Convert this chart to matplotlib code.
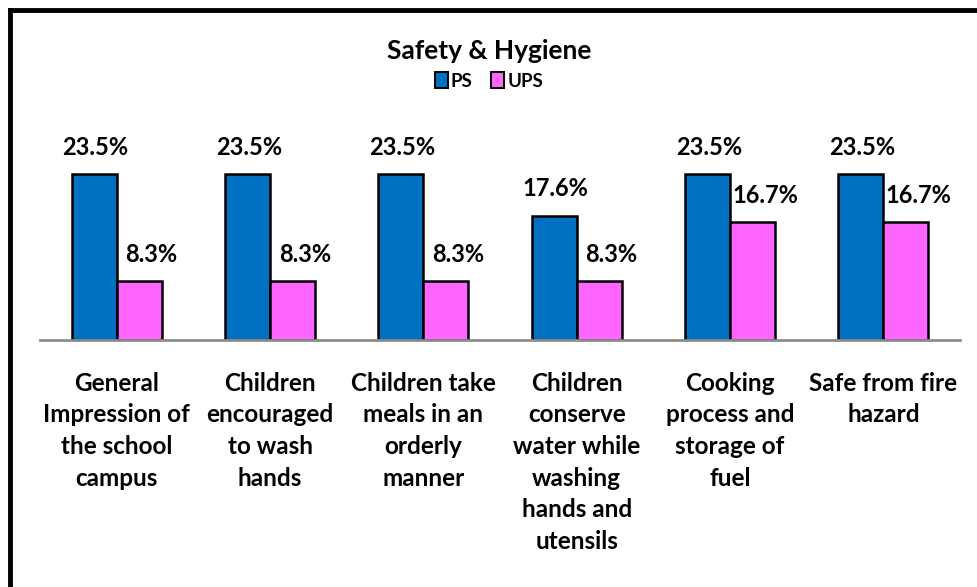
import matplotlib.pyplot as plt
import numpy as np
from matplotlib.lines import Line2D
from matplotlib.patches import Patch

plt.rcParams["font.family"] = ["Lato", "DejaVu Sans"]
plt.rcParams["font.weight"] = "bold"

categories = [
    "General\nImpression of\nthe school\ncampus",
    "Children\nencouraged\nto wash\nhands",
    "Children take\nmeals in an\norderly\nmanner",
    "Children\nconserve\nwater while\nwashing\nhands and\nutensils",
    "Cooking\nprocess and\nstorage of\nfuel",
    "Safe from fire\nhazard",
]
ps = [23.5, 23.5, 23.5, 17.6, 23.5, 23.5]
ups = [8.3, 8.3, 8.3, 8.3, 16.7, 16.7]

fig = plt.figure(figsize=(9.78, 5.87), dpi=100)
ax = fig.add_axes([40 / 978, 247 / 587, 920 / 978, 176.5 / 587])

x = np.arange(len(categories))
w = 0.293
b1 = ax.bar(x - w / 2, ps, w, color="#0070C0", edgecolor="black", linewidth=1.8, label="PS")
b2 = ax.bar(x + w / 2, ups, w, color="#FF66FF", edgecolor="black", linewidth=1.8, label="UPS")

for bars, dx in ((b1, 1), (b2, 9)):
    for r in bars:
        ax.annotate(f"{r.get_height():.1f}%", (r.get_x() + r.get_width() / 2, r.get_height()),
                    xytext=(dx, 19.5), textcoords="offset points", ha="center", va="center",
                    fontsize=17, fontweight="bold")

ax.set_xlim(-0.5, len(categories) - 0.5)
ax.set_ylim(0, 25)
ax.set_yticks([])
ax.set_xticks(x)
ax.set_xticklabels(categories, fontsize=17.5, fontweight="bold", linespacing=1.45)
ax.tick_params(axis="x", length=0, pad=23)
for s in ("top", "right", "left"):
    ax.spines[s].set_visible(False)
ax.spines["bottom"].set_color("#8c8c8c")
ax.spines["bottom"].set_linewidth(2)

fig.text(0.5, 1 - 51 / 587, "Safety & Hygiene", ha="center", va="center",
         fontsize=19, fontweight="bold")
handles = [Patch(facecolor="#0070C0", edgecolor="black", linewidth=1.4, label="PS"),
           Patch(facecolor="#FF66FF", edgecolor="black", linewidth=1.4, label="UPS")]
fig.legend(handles=handles, loc="center", bbox_to_anchor=(0.5, 1 - 81 / 587), ncol=2,
           frameon=False, handlelength=0.7, handleheight=0.95,
           handletextpad=0.15, columnspacing=1.0, prop={"weight": "bold", "size": 13.5})

# border of the chart area (top and left only visible)
fig.add_artist(Line2D([10 / 978, 1], [1 - 10 / 587, 1 - 10 / 587], color="black", linewidth=3.5,
                      transform=fig.transFigure))
fig.add_artist(Line2D([10 / 978, 10 / 978], [0, 1 - 10 / 587], color="black", linewidth=3.5,
                      transform=fig.transFigure))

fig.savefig("out.png", dpi=100)
